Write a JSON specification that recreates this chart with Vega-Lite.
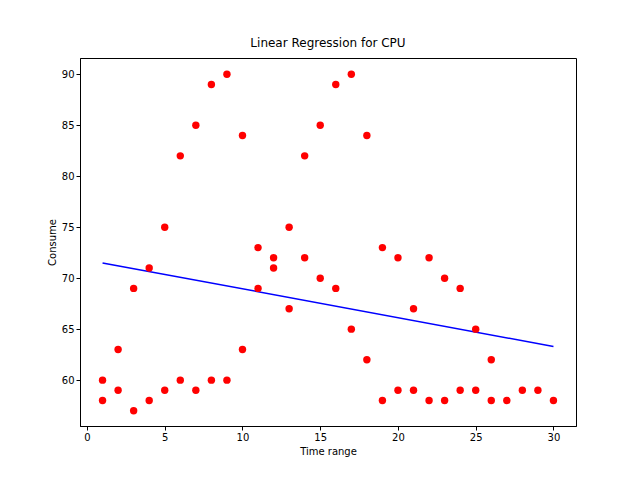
{
"$schema":"https://vega.github.io/schema/vega-lite/v6.json",
"width":496,"height":368,
"padding":{"left":47,"top":37,"right":10,"bottom":5},
"title":{"text":"Linear Regression for CPU","font":"DejaVu Sans","fontSize":12,"fontWeight":"normal","offset":8},
"config":{"view":{"stroke":"black"},"axis":{"grid":false,"domainColor":"black","tickColor":"black","labelFont":"DejaVu Sans","titleFont":"DejaVu Sans","labelFontSize":10,"titleFontSize":10,"titleFontWeight":"normal","labelColor":"black","titleColor":"black","tickSize":4}},
"datasets":{
"pts":[
{"t":1,"c":60},{"t":1,"c":58},{"t":2,"c":63},{"t":2,"c":59},{"t":3,"c":69},{"t":3,"c":57},{"t":4,"c":71},{"t":4,"c":58},{"t":5,"c":75},{"t":5,"c":59},{"t":6,"c":82},{"t":6,"c":60},{"t":7,"c":85},{"t":7,"c":59},{"t":8,"c":89},{"t":8,"c":60},{"t":9,"c":90},{"t":9,"c":60},{"t":10,"c":84},{"t":10,"c":63},{"t":11,"c":73},{"t":11,"c":69},{"t":12,"c":72},{"t":12,"c":71},{"t":13,"c":75},{"t":13,"c":67},{"t":14,"c":82},{"t":14,"c":72},{"t":15,"c":85},{"t":15,"c":70},{"t":16,"c":89},{"t":16,"c":69},{"t":17,"c":90},{"t":17,"c":65},{"t":18,"c":84},{"t":18,"c":62},{"t":19,"c":73},{"t":19,"c":58},{"t":20,"c":72},{"t":20,"c":59},{"t":21,"c":67},{"t":21,"c":59},{"t":22,"c":72},{"t":22,"c":58},{"t":23,"c":70},{"t":23,"c":58},{"t":24,"c":69},{"t":24,"c":59},{"t":25,"c":65},{"t":25,"c":59},{"t":26,"c":62},{"t":26,"c":58},{"t":27,"c":58},{"t":28,"c":59},{"t":29,"c":59},{"t":30,"c":58}],
"fit":[{"t":1,"c":71.5},{"t":30,"c":63.3}]
},
"layer":[
{"data":{"name":"fit"},"mark":{"type":"line","color":"blue","strokeWidth":1.5},
"encoding":{"x":{"field":"t","type":"quantitative","scale":{"domain":[-0.45,31.45],"nice":false,"zero":false},"axis":{"values":[0,5,10,15,20,25,30],"title":"Time range"}},
"y":{"field":"c","type":"quantitative","scale":{"domain":[55.5,91.6],"nice":false,"zero":false},"axis":{"values":[60,65,70,75,80,85,90],"title":"Consume"}}}},
{"data":{"name":"pts"},"mark":{"type":"point","filled":true,"color":"red","size":55,"opacity":1},
"encoding":{"x":{"field":"t","type":"quantitative"},"y":{"field":"c","type":"quantitative"}}}
]
}
